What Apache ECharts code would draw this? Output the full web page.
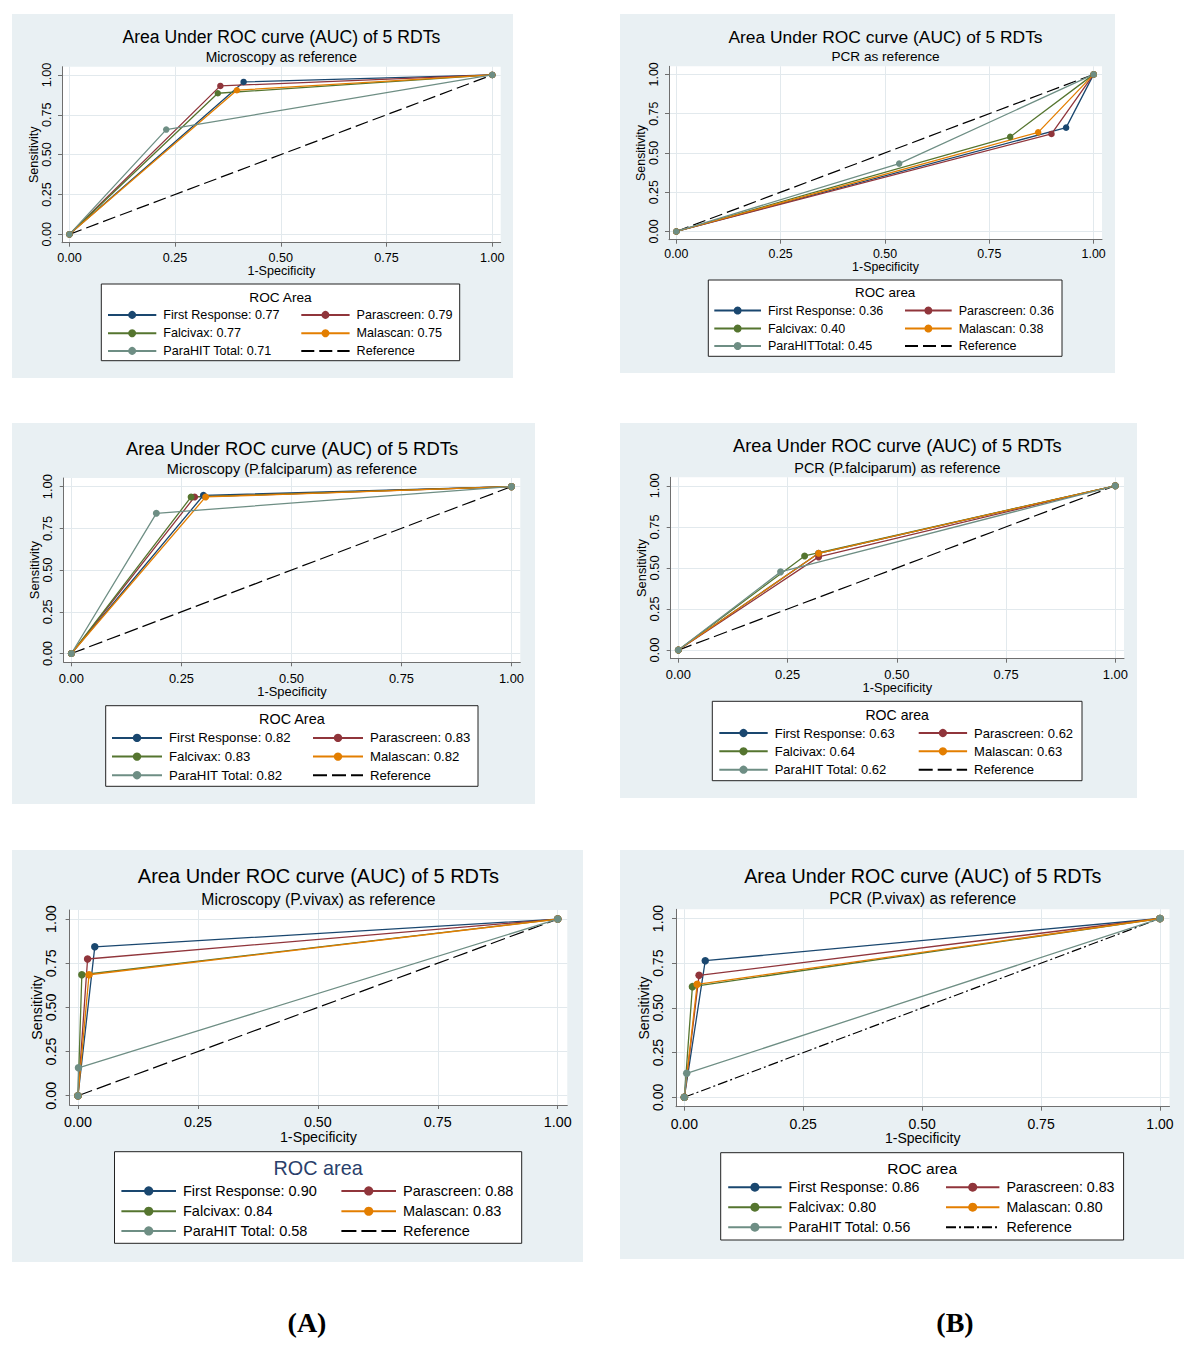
<!DOCTYPE html>
<html>
<head>
<meta charset="utf-8">
<script src="https://cdn.jsdelivr.net/npm/echarts@6/dist/echarts.min.js"></script>
<style>
  html, body { margin: 0; padding: 0; background: #ffffff; }
  body { width: 1200px; height: 1358px; position: relative; overflow: hidden; }
  .panel { position: absolute; }
  .plabel { position: absolute; font-family: "Liberation Serif", "Times New Roman", serif; font-weight: bold; font-size: 28px; color: #000; transform: translate(-50%, -50%); }
</style>
</head>
<body>
<div id="A1" class="panel"></div>
<div id="B1" class="panel"></div>
<div id="A2" class="panel"></div>
<div id="B2" class="panel"></div>
<div id="A3" class="panel"></div>
<div id="B3" class="panel"></div>
<div class="plabel" style="left:307px; top:1323px;">(A)</div>
<div class="plabel" style="left:955px; top:1323px;">(B)</div>
<script>
// ---------------- DATA ----------------
const tickValues = [0, 0.25, 0.5, 0.75, 1];
const tickLabels = ['0.00', '0.25', '0.50', '0.75', '1.00'];
const rdtNames = ['First Response', 'Parascreen', 'Falcivax', 'Malascan', 'ParaHIT Total'];
const b1Names = ['First Response', 'Parascreen', 'Falcivax', 'Malascan', 'ParaHITTotal'];
const curveStart = [0, 0];
const curveEnd = [1, 1];

// A1: Microscopy as reference (1-specificity, sensitivity at the single cut-point)
const a1Spec = [0.412, 0.357, 0.351, 0.396, 0.229];
const a1Sens = [0.956, 0.931, 0.885, 0.904, 0.657];
const a1Auc = ['0.77', '0.79', '0.77', '0.75', '0.71'];

// B1: PCR as reference
const b1Spec = [0.934, 0.899, 0.800, 0.867, 0.534];
const b1Sens = [0.661, 0.621, 0.602, 0.631, 0.432];
const b1Auc = ['0.36', '0.36', '0.40', '0.38', '0.45'];

// A2: Microscopy (P.falciparum) as reference
const a2Spec = [0.300, 0.280, 0.272, 0.305, 0.193];
const a2Sens = [0.948, 0.938, 0.938, 0.938, 0.840];
const a2Auc = ['0.82', '0.83', '0.83', '0.82', '0.82'];

// B2: PCR (P.falciparum) as reference
const b2Spec = [0.321, 0.321, 0.289, 0.321, 0.234];
const b2Sens = [0.589, 0.567, 0.573, 0.589, 0.476];
const b2Auc = ['0.63', '0.62', '0.64', '0.63', '0.62'];

// A3: Microscopy (P.vivax) as reference
const a3Spec = [0.035, 0.020, 0.008, 0.023, 0.001];
const a3Sens = [0.843, 0.774, 0.685, 0.685, 0.158];
const a3Auc = ['0.90', '0.88', '0.84', '0.83', '0.58'];

// B3: PCR (P.vivax) as reference
const b3Spec = [0.044, 0.031, 0.017, 0.027, 0.005];
const b3Sens = [0.764, 0.682, 0.619, 0.632, 0.134];
const b3Auc = ['0.86', '0.83', '0.80', '0.80', '0.56'];

// ---------------- STYLE / LAYOUT ----------------
const rdtColors = ['#1a476f', '#90353b', '#55752f', '#e37e00', '#6e8e84'];
const FONT = '"Liberation Sans", Arial, Helvetica, sans-serif';
const BG = '#e9f0f3';
const GRIDLINE = '#e2e9ed';
const AXISC = '#6f6f6f';

const panels = [
  { id: 'A1', sub: 'Microscopy as reference', names: rdtNames, spec: a1Spec, sens: a1Sens, auc: a1Auc,
    legTitle: 'ROC Area', legTitleColor: '#000', refDash: [13, 5],
    box: [12, 14, 501, 364], plot: [62, 66.7, 500.7, 242.7], titleY: 37.3, subY: 57.3,
    fTitle: 17.6, fSub: 13.9, fTick: 12.6, fLeg: 12.6, fLegTitle: 13.7,
    legBox: [101.3, 284, 459.7, 360.7], legTitleY: 297.3, rows: [314.7, 333, 350.7],
    lineX: [107, 300.3], lineW: 48.3, xTickY: 258.3, xNameY: 270.7, yTickX: 47, yNameX: 33.7, sym: 6.5 },
  { id: 'B1', sub: 'PCR as reference', names: b1Names, spec: b1Spec, sens: b1Sens, auc: b1Auc,
    legTitle: 'ROC area', legTitleColor: '#000', refDash: [13, 5],
    box: [620, 14, 495, 359], plot: [669, 66.3, 1102, 239.7], titleY: 36.7, subY: 56.7,
    fTitle: 17.4, fSub: 13.6, fTick: 12.4, fLeg: 12.5, fLegTitle: 13.4,
    legBox: [708.3, 280, 1062, 356.3], legTitleY: 292.3, rows: [310.3, 328.3, 345.7],
    lineX: [713.3, 904], lineW: 46.7, xTickY: 254.7, xNameY: 266.7, yTickX: 653.3, yNameX: 640.7, sym: 6.5 },
  { id: 'A2', sub: 'Microscopy (P.falciparum) as reference', names: rdtNames, spec: a2Spec, sens: a2Sens, auc: a2Auc,
    legTitle: 'ROC Area', legTitleColor: '#000', refDash: [14, 5],
    box: [12, 423, 523, 381], plot: [63.7, 478, 520.3, 662.3], titleY: 448, subY: 469,
    fTitle: 18.4, fSub: 14.5, fTick: 12.9, fLeg: 13.2, fLegTitle: 14.4,
    legBox: [105.7, 705.7, 478, 786.3], legTitleY: 719, rows: [738, 756.7, 775.3],
    lineX: [111, 312], lineW: 50, xTickY: 679, xNameY: 691.3, yTickX: 48, yNameX: 34.7, sym: 7 },
  { id: 'B2', sub: 'PCR (P.falciparum) as reference', names: rdtNames, spec: b2Spec, sens: b2Sens, auc: b2Auc,
    legTitle: 'ROC area', legTitleColor: '#000', refDash: [14, 5],
    box: [620, 423, 517, 375], plot: [670.7, 477.3, 1124, 658.7], titleY: 446.3, subY: 468,
    fTitle: 18.2, fSub: 14.4, fTick: 12.9, fLeg: 13.0, fLegTitle: 14.1,
    legBox: [712.3, 701.3, 1082, 780.7], legTitleY: 714.7, rows: [733, 751.3, 769.7],
    lineX: [718.3, 917.7], lineW: 48.4, xTickY: 674.7, xNameY: 687, yTickX: 655, yNameX: 641.7, sym: 7 },
  { id: 'A3', sub: 'Microscopy (P.vivax) as reference', names: rdtNames, spec: a3Spec, sens: a3Sens, auc: a3Auc,
    legTitle: 'ROC area', legTitleColor: '#2a3f6b', refDash: [15, 5],
    box: [12, 850, 571, 412], plot: [69.6, 910, 567.3, 1105], titleY: 875.7, subY: 899.3,
    fTitle: 20, fSub: 15.7, fTick: 14.3, fLeg: 14.5, fLegTitle: 19.8,
    legBox: [114.5, 1151.7, 521.7, 1243.3], legTitleY: 1168.3, rows: [1190.7, 1211, 1230.7],
    lineX: [120.4, 340.4], lineW: 54.6, xTickY: 1122.7, xNameY: 1136, yTickX: 51, yNameX: 36.8, sym: 7.5 },
  { id: 'B3', sub: 'PCR (P.vivax) as reference', names: rdtNames, spec: b3Spec, sens: b3Sens, auc: b3Auc,
    legTitle: 'ROC area', legTitleColor: '#000', refDash: [10, 3, 2, 3],
    box: [620, 850, 564, 409], plot: [676, 909.3, 1169.5, 1106.7], titleY: 875.7, subY: 898.7,
    fTitle: 19.8, fSub: 15.6, fTick: 14, fLeg: 14.2, fLegTitle: 15.5,
    legBox: [720.7, 1152.7, 1123.6, 1240], legTitleY: 1168.3, rows: [1187.3, 1207.3, 1227.3],
    lineX: [727.2, 945], lineW: 53.4, xTickY: 1124, xNameY: 1137.3, yTickX: 657.9, yNameX: 643.5, sym: 7.5 }
];

function tickText(v) {
  for (let i = 0; i < tickValues.length; i++) {
    if (Math.abs(tickValues[i] - v) < 1e-9) return tickLabels[i];
  }
  return '';
}

function buildPanel(P) {
  const el = document.getElementById(P.id);
  const [bx, by, bw, bh] = P.box;
  el.style.left = bx + 'px';
  el.style.top = by + 'px';
  el.style.width = bw + 'px';
  el.style.height = bh + 'px';
  const chart = echarts.init(el, null, { renderer: 'svg', width: bw, height: bh });

  const gl = P.plot[0] - bx, gt = P.plot[1] - by;
  const gw = P.plot[2] - P.plot[0], gh = P.plot[3] - P.plot[1];
  const plotBottom = P.plot[3], plotLeft = P.plot[0];
  const cx = gl + gw / 2;

  // keep x tick labels and the x-axis title from touching
  const xTickY = P.xTickY - 0.4;
  const xNameY = Math.max(P.xNameY, xTickY + P.fTick + 0.4);

  const series = [];
  series.push({
    name: 'Reference', type: 'line', data: [curveStart, curveEnd],
    symbol: 'none', lineStyle: { color: '#000', width: 1.2, type: P.refDash },
    itemStyle: { color: '#000' }, animation: false, silent: true, z: 2
  });
  const legendNames = [];
  P.spec.forEach((x, i) => {
    const nm = P.names[i] + ': ' + P.auc[i];
    legendNames.push(nm);
    series.push({
      name: nm, type: 'line', data: [curveStart, [x, P.sens[i]], curveEnd],
      symbol: 'circle', symbolSize: P.sym, showSymbol: true,
      lineStyle: { color: rdtColors[i], width: 1.3 },
      itemStyle: { color: rdtColors[i] },
      animation: false, silent: true, z: 3
    });
  });

  // legend: 2 columns x 3 rows (row-major order as in the figure)
  const legendSlots = [
    [legendNames[0], 0, 0], [legendNames[1], 1, 0],
    [legendNames[2], 0, 1], [legendNames[3], 1, 1],
    [legendNames[4], 0, 2], ['Reference', 1, 2]
  ];
  const itemH = 10 * P.fLeg / 12.6;
  const boxH = Math.max(itemH, P.fLeg);
  const legends = legendSlots.map(([nm, col, row]) => ({
    show: true, orient: 'horizontal', padding: 0, itemGap: 0,
    left: P.lineX[col] - bx, top: P.rows[row] - by - boxH / 2,
    itemWidth: P.lineW, itemHeight: itemH, selectedMode: false, z: 10,
    textStyle: { fontSize: P.fLeg, fontFamily: FONT, color: '#000', padding: [0, 0, 0, 2] },
    data: nm === 'Reference' ? [{ name: nm, itemStyle: { opacity: 0 } }] : [nm]
  }));

  const graphics = [
    { type: 'text', x: cx, y: P.titleY - by, z: 5,
      style: { text: 'Area Under ROC curve (AUC) of 5 RDTs', align: 'center', verticalAlign: 'middle',
               fontSize: P.fTitle, fontFamily: FONT, fill: '#000' } },
    { type: 'text', x: cx, y: P.subY - by, z: 5,
      style: { text: P.sub, align: 'center', verticalAlign: 'middle',
               fontSize: P.fSub, fontFamily: FONT, fill: '#000' } },
    { type: 'rect', z: 1,
      shape: { x: P.legBox[0] - bx, y: P.legBox[1] - by, width: P.legBox[2] - P.legBox[0], height: P.legBox[3] - P.legBox[1] },
      style: { fill: '#fff', stroke: '#222', lineWidth: 1 } },
    { type: 'text', x: (P.legBox[0] + P.legBox[2]) / 2 - bx, y: P.legTitleY - by, z: 5,
      style: { text: P.legTitle, align: 'center', verticalAlign: 'middle',
               fontSize: P.fLegTitle, fontFamily: FONT, fill: P.legTitleColor } }
  ];

  const axisCommon = {
    type: 'value',
    axisLine: { show: true, onZero: false, lineStyle: { color: AXISC, width: 1 } },
    axisTick: { show: true, customValues: tickValues, length: 4, lineStyle: { color: AXISC, width: 1 } },
    splitLine: { show: true, lineStyle: { color: GRIDLINE, width: 1 } },
    nameLocation: 'middle',
    nameMoveOverlap: false,
    nameTextStyle: { fontSize: P.fTick, fontFamily: FONT, color: '#000' }
  };

  const option = {
    backgroundColor: BG,
    animation: false,
    grid: { left: gl, top: gt, width: gw, height: gh, show: true, backgroundColor: '#fff', borderWidth: 0, containLabel: false },
    xAxis: Object.assign({}, axisCommon, {
      min: -0.0175, max: 1.02, name: '1-Specificity',
      nameGap: (xNameY - plotBottom) - P.fTick / 2,
      axisLabel: { customValues: tickValues, formatter: tickText, fontSize: P.fTick, fontFamily: FONT, color: '#000',
                   margin: (xTickY - plotBottom) - P.fTick / 2 }
    }),
    yAxis: Object.assign({}, axisCommon, {
      min: -0.0525, max: 1.0515, name: 'Sensitivity',
      nameGap: (plotLeft - P.yNameX) - P.fTick / 2,
      axisLabel: { customValues: tickValues, formatter: tickText, rotate: 90, fontSize: P.fTick, fontFamily: FONT, color: '#000',
                   margin: (plotLeft - P.yTickX) - P.fTick / 2 }
    }),
    legend: legends,
    graphic: graphics,
    series: series
  };
  chart.setOption(option);
}

panels.forEach(buildPanel);
</script>
</body>
</html>
